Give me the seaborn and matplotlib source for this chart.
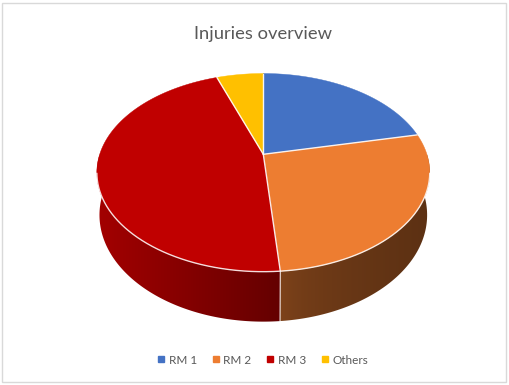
import numpy as np
import matplotlib
matplotlib.use("Agg")
import matplotlib.pyplot as plt
import seaborn as sns
from matplotlib.patches import Polygon, Rectangle
from matplotlib.lines import Line2D

# Injury counts per category
categories = ["RM 1", "RM 2", "RM 3", "Others"]
injuries = [8, 10, 17, 2]
slice_colors = ["#4472C4", "#ED7D31", "#C00000", "#FFC000"]
# brightness of each slice's outer wall at its left and right ends,
# and how quickly it falls off across the wall
wall_shade = [(0.85, 0.55), (0.55, 0.39), (0.85, 0.52), (0.85, 0.55)]
wall_falloff = [1.0, 0.5, 1.0, 1.0]
title = "Injuries overview"

sns.set_theme(style="white")
plt.rcParams["font.family"] = ["Lato", "DejaVu Sans"]
palette = sns.color_palette(slice_colors)

W, H = 509, 385
fig = plt.figure(figsize=(W / 100, H / 100), dpi=100)
ax = fig.add_axes([0, 0, 1, 1])
ax.set_xlim(0, W)
ax.set_ylim(H, 0)
ax.axis("off")

# perspective projection of the pie disc (pixel space)
CX, CY_TOP, CY_BOT = 263.3, 154.3, 195.3
A_TOP, A_BOT = 163.6, 161.0
K_TOP, K_BOT = 95.7, 103.0
G = 0.1847


def project(theta_deg, top=True):
    t = np.radians(theta_deg)
    x, y = np.sin(t), np.cos(t)
    w = 1 + G * y
    if top:
        return CX + A_TOP * x / w, CY_TOP - K_TOP * y / w
    return CX + A_BOT * x / w, CY_BOT - K_BOT * y / w


vals = np.asarray(injuries, dtype=float)
bounds = np.concatenate([[0], np.cumsum(vals) / vals.sum() * 360])

# outer wall (front half), one gradient-filled piece per slice
for i in range(len(vals)):
    a0, a1 = max(bounds[i], 90), min(bounds[i + 1], 270)
    if a1 <= a0:
        continue
    arc = np.linspace(a0, a1, 200)
    top_pts = [project(a) for a in arc]
    bot_pts = [project(a, False) for a in arc[::-1]]
    pts = np.array(top_pts + bot_pts)
    wall = Polygon(pts, closed=True, facecolor="none", edgecolor="none")
    ax.add_patch(wall)
    umin, umax = pts[:, 0].min(), pts[:, 0].max()
    vmin, vmax = pts[:, 1].min(), pts[:, 1].max()
    fl, fr = wall_shade[i]
    t = np.linspace(0, 1, 256) ** wall_falloff[i]
    f = fl + (fr - fl) * t
    grad = np.clip(np.array(palette[i])[None, None, :] * f[None, :, None],
                   0, 1)
    im = ax.imshow(grad, extent=[umin - 1, umax + 1, vmax + 1, vmin - 1],
                   aspect="auto", interpolation="bilinear", zorder=1)
    im.set_clip_path(wall)

# seams on the wall where slices meet
for b in bounds[1:-1]:
    if 90 < b < 270:
        (u0, v0), (u1, v1) = project(b), project(b, False)
        ax.plot([u0, u1], [v0, v1], color="white", lw=0.9, alpha=0.75,
                zorder=2)

# top faces
for i in range(len(vals)):
    arc = np.linspace(bounds[i], bounds[i + 1], 200)
    pts = [(CX, CY_TOP)] + [project(a) for a in arc]
    ax.add_patch(Polygon(pts, closed=True, facecolor=palette[i],
                         edgecolor=palette[i], lw=0.3, zorder=3))

# highlight along the front rim of the top face
rim = np.linspace(101, 259, 300)
ru, rv = zip(*[project(a) for a in rim])
ax.plot(ru, rv, color="white", lw=1.0, alpha=0.85, zorder=4)

# radial separators
for b in bounds[:-1]:
    u, v = project(b)
    ax.plot([CX, u], [CY_TOP, v], color="white", lw=1.0, alpha=0.9, zorder=4)

ax.text(263, 34, title, ha="center", va="center", fontsize=13.2,
        color="#595959")

handles = [Line2D([], [], marker="s", linestyle="", markersize=4,
                  color=palette[i]) for i in range(len(categories))]
fig.legend(handles, categories, loc="center", ncol=4, frameon=False,
           bbox_to_anchor=(263 / W, 1 - 360 / H), fontsize=8.5,
           labelcolor="#595959", handlelength=0.6, handletextpad=0.35,
           columnspacing=1.3)

# chart-area border
ax.add_patch(Rectangle((2, 3), W - 5, H - 6, fill=False, edgecolor="#D9D9D9",
                       lw=1, zorder=0))

ax.set_xlim(0, W)
ax.set_ylim(H, 0)
fig.savefig("out.png", dpi=100)
